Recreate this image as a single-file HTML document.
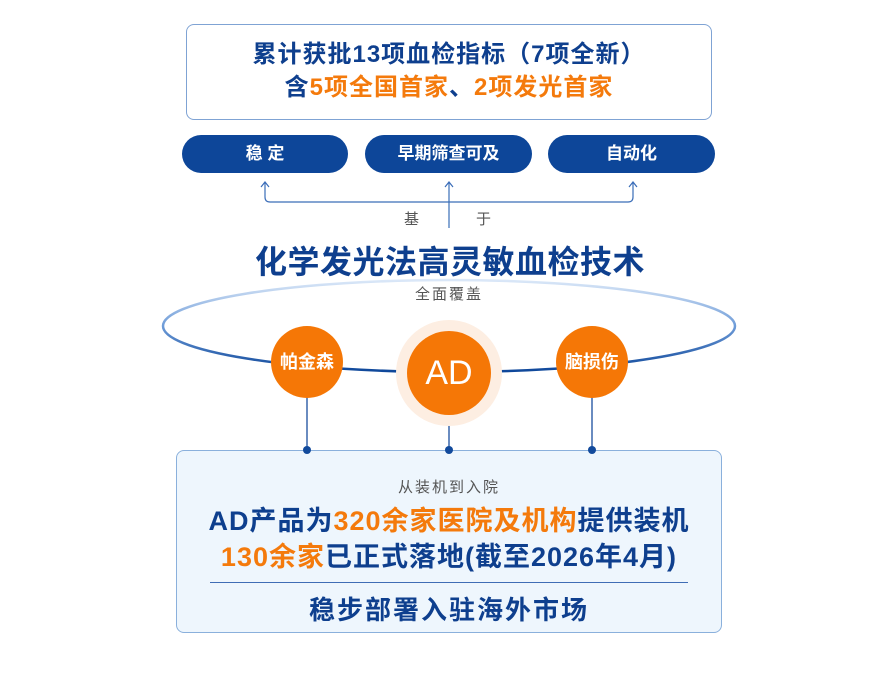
<!DOCTYPE html>
<html><head><meta charset="utf-8"><style>
body{margin:0;width:880px;height:675px;background:#fff;position:relative;overflow:hidden;font-family:"Liberation Sans","Noto Sans CJK SC",sans-serif}
.a{position:absolute;white-space:nowrap}
.c{text-align:center}
.b{font-weight:bold;color:#0e3f8e}
.o{color:#f47a0c}
.pill{position:absolute;top:135px;height:38px;border-radius:19px;background:#0d4699;color:#fff;font-size:17px;line-height:38px;text-align:center;font-weight:bold}
</style></head><body>
<div class="a" style="left:186px;top:24px;width:526px;height:96px;border:1.5px solid #7fa3d4;border-radius:8px;box-sizing:border-box"></div>
<div class="a c b" style="left:186px;top:39px;width:526px;font-size:24px;line-height:32px;letter-spacing:1px">累计获批13项血检指标（7项全新）</div>
<div class="a c b" style="left:186px;top:72px;width:526px;font-size:24px;line-height:32px;letter-spacing:1px">含<span class="o">5项全国首家</span>、<span class="o">2项发光首家</span></div>
<div class="pill" style="left:182px;width:166px">稳 定</div>
<div class="pill" style="left:365px;width:167px">早期筛查可及</div>
<div class="pill" style="left:548px;width:167px">自动化</div>
<div class="a" style="left:176px;top:450px;width:546px;height:183px;background:#eef6fd;border:1.5px solid #8ab0dc;border-radius:8px;box-sizing:border-box"></div>
<svg class="a" style="left:0;top:0" width="880" height="675">
<defs><linearGradient id="g" x1="0" y1="0" x2="0" y2="1"><stop offset="0" stop-color="#dbe8f8"/><stop offset="0.5" stop-color="#6d9bd8"/><stop offset="1" stop-color="#0d4699"/></linearGradient></defs>
<g fill="none" stroke="#3a6db8" stroke-width="1.2">
<path d="M265 183V197Q265 202 270 202H628Q633 202 633 197V183"/>
<path d="M449 183V228"/>
<path d="M261 187L265 182L269 187M445 187L449 182L453 187M629 187L633 182L637 187"/>
</g>
<ellipse cx="449" cy="326" rx="286" ry="46" fill="none" stroke="url(#g)" stroke-width="2.5"/>
<g stroke="#1a4f9e" stroke-width="1.3"><path d="M307 395V450M449 410V450M592 395V450"/></g>
<g fill="#124a9c"><circle cx="307" cy="450" r="4"/><circle cx="449" cy="450" r="4"/><circle cx="592" cy="450" r="4"/></g>
<circle cx="449" cy="373" r="53" fill="#fdeee2"/>
<circle cx="449" cy="373" r="42" fill="#f57706"/>
<circle cx="307" cy="362" r="36" fill="#f57706"/>
<circle cx="592" cy="362" r="36" fill="#f57706"/>
</svg>
<div class="a" style="left:404px;top:210px;font-size:15px;color:#555;line-height:20px">基</div>
<div class="a" style="left:476px;top:210px;font-size:15px;color:#555;line-height:20px">于</div>
<div class="a c b" style="left:150px;top:242px;width:600px;font-size:32px;line-height:40px;letter-spacing:0.5px">化学发光法高灵敏血检技术</div>
<div class="a c" style="left:349px;top:285px;width:200px;font-size:15px;color:#555;letter-spacing:2px;line-height:20px">全面覆盖</div>
<div class="a c" style="left:267px;top:350px;width:80px;font-size:18px;font-weight:bold;color:#fff;line-height:24px">帕金森</div>
<div class="a c" style="left:552px;top:350px;width:80px;font-size:18px;font-weight:bold;color:#fff;line-height:24px">脑损伤</div>
<div class="a c" style="left:399px;top:353px;width:100px;font-size:34px;color:#fff;line-height:40px">AD</div>
<div class="a c" style="left:176px;top:478px;width:546px;font-size:15px;color:#555;letter-spacing:2px;line-height:20px">从装机到入院</div>
<div class="a c b" style="left:176px;top:504px;width:546px;font-size:27px;line-height:34px;letter-spacing:1px">AD产品为<span class="o">320余家医院及机构</span>提供装机</div>
<div class="a c b" style="left:176px;top:540px;width:546px;font-size:27px;line-height:34px;letter-spacing:1px"><span class="o">130余家</span>已正式落地(截至2026年4月)</div>
<div class="a" style="left:210px;top:582px;width:478px;height:1px;background:#3f6db5"></div>
<div class="a c b" style="left:176px;top:594px;width:546px;font-size:26px;line-height:32px;letter-spacing:2px">稳步部署入驻海外市场</div>
</body></html>
